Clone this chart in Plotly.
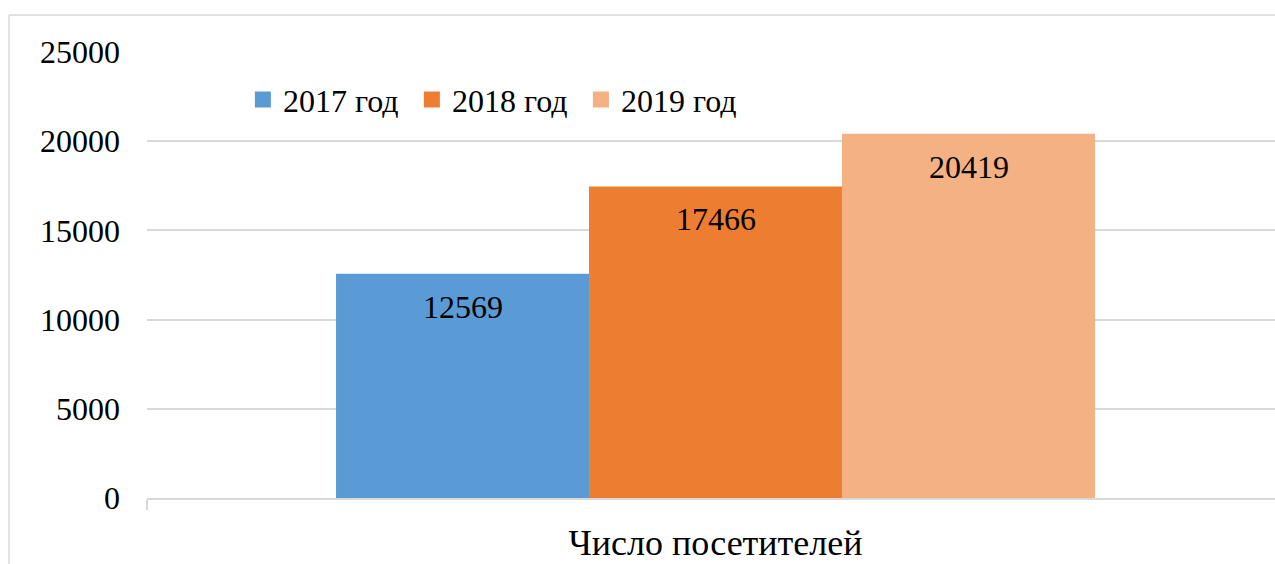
import plotly.graph_objects as go

# chart data
category = ["Число посетителей"]
series_names = ["2017 год", "2018 год", "2019 год"]
series_values = [12569, 17466, 20419]
series_colors = ["#5B9BD5", "#ED7D31", "#F4B183"]

y_ticks = [0, 5000, 10000, 15000, 20000, 25000]

FONT = "Liberation Serif, Times New Roman, serif"
GRID = "#D9D9D9"

W, H = 1275, 564
ML, MT, MB = 147, 52, 66
plot_w = W - ML
plot_h = H - MT - MB

fig = go.Figure()

for name, value, color in zip(series_names, series_values, series_colors):
    fig.add_trace(
        go.Bar(
            x=category,
            y=[value],
            name=name,
            marker=dict(color=color, line=dict(width=0)),
            showlegend=False,
            hoverinfo="skip",
        )
    )

# legend-only entries, to get the bigger square swatches
for name, color in zip(series_names, series_colors):
    fig.add_trace(
        go.Scatter(
            x=[None],
            y=[None],
            mode="markers",
            name=name,
            marker=dict(symbol="square", size=17, color=color),
        )
    )

# value labels sit a bit below the top of every bar
bar_px = 253
for i, value in enumerate(series_values):
    fig.add_annotation(
        x=category[0],
        y=value,
        text=str(value),
        showarrow=False,
        xshift=(i - 1) * bar_px,
        yshift=-33,
        font=dict(family=FONT, size=32, color="black"),
    )

# outer chart frame (left and top edges are visible)
fx = (9 - ML) / plot_w
fy = (H - MB - 15) / plot_h
fig.add_shape(type="line", xref="paper", yref="paper",
              x0=fx, x1=fx, y0=-MB / plot_h, y1=fy,
              line=dict(color=GRID, width=1.5))
fig.add_shape(type="line", xref="paper", yref="paper",
              x0=fx, x1=1.05, y0=fy, y1=fy,
              line=dict(color=GRID, width=1.5))

fig.update_layout(
    width=W,
    height=H,
    margin=dict(l=ML, r=0, t=MT, b=MB, pad=0),
    paper_bgcolor="white",
    plot_bgcolor="white",
    barmode="group",
    bargap=0.3325,
    bargroupgap=0,
    font=dict(family=FONT, size=32, color="black"),
    showlegend=True,
    legend=dict(
        orientation="h",
        x=0.085,
        xanchor="left",
        y=0.893,
        yanchor="middle",
        bgcolor="rgba(0,0,0,0)",
        font=dict(family=FONT, size=32, color="black"),
        itemsizing="trace",
        entrywidth=124,
        entrywidthmode="pixels",
    ),
    xaxis=dict(
        type="category",
        range=[-0.5, -0.5 + plot_w / 1137],
        showgrid=False,
        showline=True,
        linecolor=GRID,
        linewidth=1.5,
        ticks="outside",
        tickson="boundaries",
        ticklen=10,
        tickcolor=GRID,
        tickwidth=1.5,
        tickfont=dict(family=FONT, size=36, color="black"),
        ticklabelstandoff=12,
        automargin=False,
        fixedrange=True,
    ),
    yaxis=dict(
        range=[0, 25000],
        tickvals=y_ticks,
        ticktext=[str(v) for v in y_ticks],
        showgrid=True,
        gridcolor=GRID,
        gridwidth=1.5,
        zeroline=False,
        showline=False,
        ticks="",
        ticklabelstandoff=26,
        tickfont=dict(family=FONT, size=32, color="black"),
        automargin=False,
        fixedrange=True,
    ),
)

# drop the page's default body margin so the figure fills the window
fig.write_html(
    "out.html",
    config={"displayModeBar": False},
    post_script="document.body.style.margin='0';document.body.style.overflow='hidden';",
)
